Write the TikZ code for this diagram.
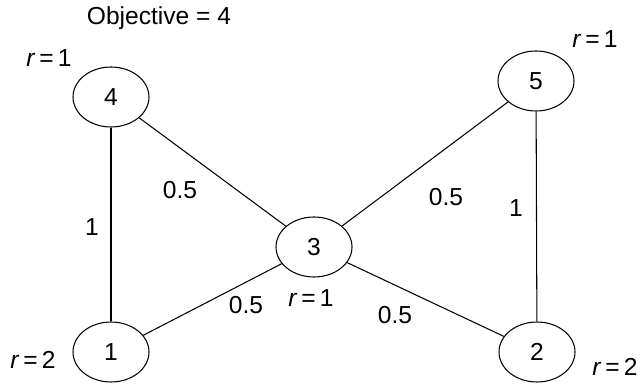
\documentclass[tikz,border=0pt]{standalone}
\usepackage{fontspec}
\setmainfont{Liberation Sans}
\usepackage{tikz}
\usetikzlibrary{shapes.geometric}

\begin{document}
\begin{tikzpicture}[line width=0.6pt,every node/.style={font=\fontsize{14}{16}\selectfont,inner sep=0pt},
    vertex/.style={draw,ellipse,minimum width=1.52cm,minimum height=1.2cm}]
        \useasboundingbox (0,0) rectangle (12.82,7.74);
        \node (obj) at (3.18,7.38) {Objective = 4};
        \node[vertex] (n4) at (2.22,5.80) {4};
        \node[vertex] (n5) at (10.72,6.12) {5};
        \node[vertex] (n3) at (6.28,2.80) {3};
        \node[vertex] (n1) at (2.22,0.70) {1};
        \node[vertex] (n2) at (10.74,0.70) {2};
        \draw (n4)--(n1); \draw (n4)--(n3); \draw (n5)--(n3);
        \draw (n5)--(n2); \draw (n1)--(n3); \draw (n3)--(n2);
        \node (w41) at (1.84,3.20) {1};
        \node (w43) at (3.60,3.94) {0.5};
        \node (w53) at (8.92,3.80) {0.5};
        \node (w52) at (10.32,3.58) {1};
        \node (w13) at (4.92,1.64) {0.5};
        \node (w32) at (7.90,1.44) {0.5};
        \node (r4) at (0.98,6.58) {\textit{r}\,=\,1};
        \node (r5) at (11.90,6.96) {\textit{r}\,=\,1};
        \node (r3) at (6.22,1.78) {\textit{r}\,=\,1};
        \node (r1) at (0.66,0.54) {\textit{r}\,=\,2};
        \node (r2) at (12.30,0.40) {\textit{r}\,=\,2};
      \end{tikzpicture}
\end{document}
